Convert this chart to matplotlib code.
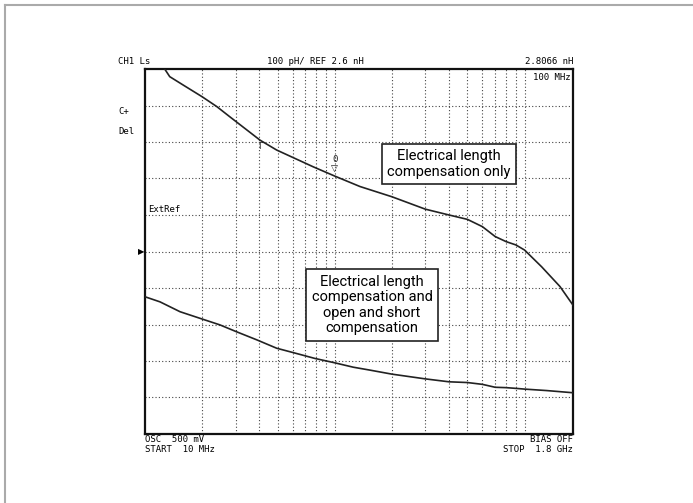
import numpy as np
import matplotlib
matplotlib.use("Agg")
import matplotlib.pyplot as plt
from matplotlib.lines import Line2D

# trace 1 : electrical length compensation only (MHz, nH)
freq_elec = [10, 12.7, 13.5, 15.9, 20, 23.9, 28.0, 40.4, 49.4, 77.0, 100,
             135.8, 200, 300, 400, 500, 600, 700, 800, 900, 1000,
             1231, 1537, 1800]
ls_elec = [3.14, 3.100, 3.079, 3.056, 3.024, 2.997, 2.969, 2.905, 2.878, 2.832, 2.8066,
           2.778, 2.750, 2.716, 2.700, 2.688, 2.668, 2.641, 2.627, 2.618, 2.604,
           2.558, 2.504, 2.453]

# trace 2 : electrical length + open/short compensation
freq_full = [10, 12.0, 15.3, 20, 24.8, 30.4, 38.8, 49.4, 60.4, 78.6, 100,
             125.2, 153.3, 200, 300, 400, 500, 600, 700, 800, 900, 1000,
             1308, 1800]
ls_full = [2.476, 2.462, 2.435, 2.415, 2.399, 2.380, 2.358, 2.335, 2.323, 2.307, 2.295,
           2.283, 2.275, 2.264, 2.251, 2.243, 2.241, 2.236, 2.228, 2.227, 2.225, 2.223,
           2.219, 2.213]

f_start, f_stop = 10, 1800
ref_nh, scale_nh = 2.6, 0.1
marker_freq, marker_val = 100, 2.8066
grid_freqs = [20, 30, 40, 50, 60, 70, 80, 90, 100,
              200, 300, 400, 500, 600, 700, 800, 900, 1000]

mono = "DejaVu Sans Mono"
narrow = ["Roboto", "DejaVu Sans"]

fig = plt.figure(figsize=(6.93, 5.03), dpi=100)
ax = fig.add_axes([145 / 693, 1 - 434 / 503, 428 / 693, 365 / 503])

ax.set_xscale("log")
ax.set_xlim(f_start, f_stop)
ax.set_ylim(ref_nh - 5 * scale_nh, ref_nh + 5 * scale_nh)

# dotted graticule
for f in grid_freqs:
    ax.axvline(f, color="#444444", lw=0.8, ls=(0, (1, 2)), zorder=1)
for k in range(-4, 5):
    ax.axhline(ref_nh + k * scale_nh, color="#444444", lw=0.8, ls=(0, (1, 2)), zorder=1)

ax.plot(freq_elec, ls_elec, color="#222222", lw=1.2, zorder=3)
ax.plot(freq_full, ls_full, color="#222222", lw=1.2, zorder=3)

ax.set_xticks([])
ax.set_yticks([])
ax.minorticks_off()
for s in ax.spines.values():
    s.set_linewidth(1.6)
    s.set_color("#111111")

# marker 0 at 100 MHz
ax.annotate("\u25BD", (marker_freq, marker_val), xytext=(0, 5), textcoords="offset points",
            fontsize=6.5, ha="center", va="center", color="#222222", zorder=4)
ax.annotate("0", (marker_freq, marker_val), xytext=(0, 12), textcoords="offset points",
            family=mono, fontsize=6.5, ha="center", va="center", color="#222222", zorder=4)
ax.annotate("\u0393", (40.5, 2.905), xytext=(0, -1), textcoords="offset points",
            fontsize=6, ha="center", va="top", color="#222222", zorder=4)

# instrument annotations
fs = 6.5
fig.text(118 / 693, 1 - 61 / 503, "CH1 Ls", family=mono, fontsize=fs, va="center")
fig.text(315 / 693, 1 - 61 / 503, "100 pH/ REF 2.6 nH", family=mono, fontsize=fs,
         ha="center", va="center")
fig.text(573 / 693, 1 - 61 / 503, "2.8066 nH", family=mono, fontsize=fs, ha="right",
         va="center")
fig.text(571 / 693, 1 - 77 / 503, "100 MHz", family=mono, fontsize=fs, ha="right",
         va="center")
fig.text(118 / 693, 1 - 112 / 503, "C+", family=mono, fontsize=fs, va="center")
fig.text(118 / 693, 1 - 131 / 503, "Del", family=mono, fontsize=fs, va="center")
fig.text(148 / 693, 1 - 210 / 503, "ExtRef", family=mono, fontsize=fs, va="center")
fig.text(138 / 693, 1 - 252 / 503, "\u25B6", fontsize=6, va="center")
fig.text(145 / 693, 1 - 440 / 503, "OSC  500 mV", family=mono, fontsize=fs, va="center")
fig.text(145 / 693, 1 - 450 / 503, "START  10 MHz", family=mono, fontsize=fs, va="center")
fig.text(573 / 693, 1 - 440 / 503, "BIAS OFF", family=mono, fontsize=fs, ha="right",
         va="center")
fig.text(573 / 693, 1 - 450 / 503, "STOP  1.8 GHz", family=mono, fontsize=fs, ha="right",
         va="center")

box = dict(boxstyle="square,pad=0.35", fc="white", ec="#222222", lw=1.2)
fig.text(449 / 693, 1 - 164 / 503, "Electrical length\ncompensation only",
         family=narrow, fontsize=10.5, ha="center", va="center", bbox=box,
         linespacing=1.15, zorder=5)
fig.text(372 / 693, 1 - 305 / 503,
         "Electrical length\ncompensation and\nopen and short\ncompensation",
         family=narrow, fontsize=10.5, ha="center", va="center", bbox=box,
         linespacing=1.15, zorder=5)

# frame of the page
fig.add_artist(Line2D([5 / 693, 1], [1 - 5 / 503, 1 - 5 / 503], color="#aaaaaa", lw=1.5,
                      transform=fig.transFigure))
fig.add_artist(Line2D([5 / 693, 5 / 693], [0, 1 - 5 / 503], color="#aaaaaa", lw=1.5,
                      transform=fig.transFigure))

fig.savefig("out.png", dpi=100)
